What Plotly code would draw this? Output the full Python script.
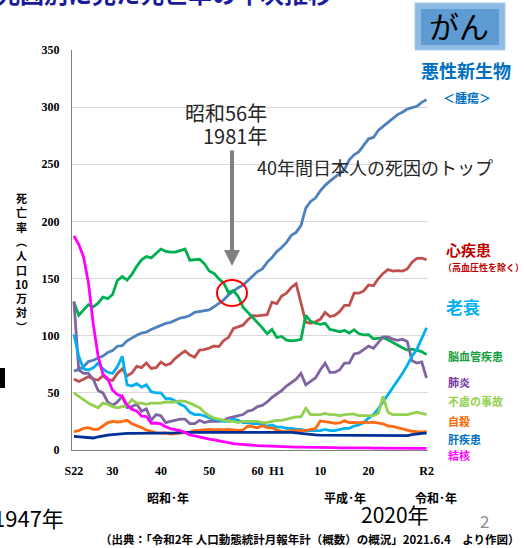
import plotly.graph_objects as go

years = list(range(1947, 2021))

# 悪性新生物
cancer = [69.0, 70.5, 73.0, 77.4, 78.5, 80.6, 82.2, 85.3, 87.1, 90.8,
          91.3, 95.5, 98.2, 100.4, 102.3, 103.2, 105.5, 107.3, 108.4, 110.8,
          111.7, 113.9, 115.5, 116.3, 117.7, 120.4, 121.2, 122.2, 122.6, 125.3,
          128.4, 131.3, 135.7, 139.1, 142.0, 144.2, 148.3, 152.5, 156.1, 158.5,
          164.2, 168.4, 173.6, 177.2, 181.7, 187.8, 190.4, 196.4, 211.6, 217.5,
          220.4, 226.7, 231.6, 235.2, 238.8, 241.7, 245.4, 253.9, 258.3, 261.0,
          266.9, 272.3, 273.5, 279.7, 283.2, 286.6, 290.3, 293.5, 295.5, 298.3,
          299.5, 300.7, 304.2, 306.6]
# 心疾患
heart = [62.2, 60.0, 62.0, 64.2, 62.1, 61.2, 65.0, 61.6, 60.9, 67.0,
         71.0, 64.8, 67.4, 73.2, 72.1, 76.2, 71.4, 72.1, 77.0, 74.2,
         75.7, 80.2, 83.7, 86.7, 83.0, 81.2, 87.4, 87.9, 89.2, 91.0,
         90.5, 95.7, 98.6, 106.2, 107.8, 109.2, 114.0, 117.5, 117.3, 117.9,
         118.4, 129.4, 128.1, 134.8, 137.2, 142.2, 145.6, 128.6, 112.0, 110.8,
         112.2, 114.3, 120.4, 116.8, 117.8, 121.0, 126.5, 126.5, 137.2, 137.2,
         139.2, 144.4, 143.7, 149.8, 154.5, 157.9, 156.5, 157.0, 156.5, 158.4,
         164.3, 167.6, 167.9, 166.6]
# 脳血管疾患
cerebro = [129.4, 117.9, 122.6, 127.1, 125.2, 128.5, 133.7, 132.4, 136.1, 148.4,
           151.7, 148.6, 153.7, 160.7, 166.4, 169.3, 168.1, 171.7, 175.8, 173.8,
           173.1, 173.1, 174.4, 175.8, 166.1, 166.7, 166.9, 163.1, 156.7, 154.5,
           149.8, 146.2, 137.7, 139.5, 134.3, 125.0, 120.6, 116.4, 112.2, 106.9,
           101.7, 105.5, 98.5, 99.4, 96.2, 95.6, 96.0, 96.9, 117.9, 112.6,
           111.0, 110.0, 110.8, 105.5, 104.7, 103.4, 104.7, 102.3, 105.3, 101.7,
           100.8, 100.9, 97.2, 97.7, 98.2, 96.5, 94.1, 91.1, 89.4, 87.4,
           88.2, 87.1, 86.1, 83.5]
# 肺炎
pneumonia = [130, 70, 67, 67, 62, 52, 50, 42, 39, 42,
             47, 37, 38, 40, 34, 36, 26, 31, 30, 24,
             25, 26, 27, 27, 23, 23, 26, 24, 25, 25,
             25, 26, 28, 29, 30, 31, 34, 35, 38, 39,
             42, 46, 49, 52, 56, 59, 62, 67, 57, 60,
             63, 70, 76, 68, 68, 70, 76, 76, 84, 85,
             88, 91, 89, 94, 99, 99, 97, 96, 97, 95,
             78, 76, 77, 63]
# 老衰
senility = [101, 82, 71, 70, 72, 76, 71, 68, 67, 73,
            82, 57, 56, 58, 55, 57, 51, 50, 50, 45,
            45, 43, 40, 38, 33, 31, 31, 30, 28, 27,
            26, 25, 25, 27, 26, 24, 24, 23, 23, 22,
            21, 22, 20, 20, 19, 19, 18, 18, 17, 17,
            17, 17, 18, 17, 17, 18, 19, 19, 21, 22,
            24, 28, 31, 36, 42, 48, 55, 60, 67, 74,
            82, 88, 98, 107]
# 不慮の事故
accident = [50, 47, 44, 41, 39, 37, 41, 40, 38, 37,
            38, 39, 44, 41, 41, 40, 41, 41, 41, 42,
            42, 42, 43, 42.5, 41, 39, 37, 33, 30, 28,
            27, 26, 25, 25, 24, 25, 25, 25, 25, 24,
            24, 25, 26, 26, 27, 28, 29, 29, 36.5, 31,
            31, 31, 32, 31, 31, 30, 31, 31, 31.6, 30,
            30, 30, 30, 32, 47, 33, 31, 31, 31, 31,
            32, 33, 32, 31]
# 自殺
suicide = [16, 17, 19, 19.6, 18, 18, 21, 24, 25, 24.5,
           25, 26, 23, 21.6, 19.6, 17.5, 16, 15, 14.7, 15,
           14, 14.5, 14.5, 15.3, 15.6, 17, 17.5, 17.5, 18, 17.5,
           17.9, 17.6, 18, 17.7, 17.1, 17.5, 21, 20.4, 19.4, 21.2,
           19.6, 19.4, 17.3, 16.4, 16.1, 16.9, 16.6, 16.9, 17.2, 17.8,
           18.8, 25.4, 25.0, 24.1, 23.3, 23.8, 25.5, 24.0, 24.2, 23.7,
           24.4, 24.0, 24.4, 23.4, 22.9, 21.0, 20.7, 19.5, 18.5, 17.3,
           16.4, 16.1, 15.7, 16.4]
# 肝疾患
liver = [12, 11.5, 11, 10.5, 10.5, 11.5, 12.5, 13, 13.5, 14,
         14, 14.5, 14.5, 14.5, 15, 15, 15, 15, 15, 15,
         15, 15, 15.5, 15.5, 15.5, 15.5, 16, 16, 16, 16,
         16, 16, 16, 16, 16, 16, 16, 16, 16, 16,
         16, 16, 16, 15.5, 15.5, 15.5, 15, 14.5, 13.8, 13.5,
         13.2, 13, 13, 12.9, 12.8, 12.8, 12.5, 12.6, 13, 13,
         13, 13, 12.8, 12.8, 12.8, 12.5, 12.7, 12.7, 12.7, 12.6,
         13.5, 14.2, 14.5, 14.8]
# 結核
tb = [187.2, 179.9, 168.8, 146.4, 110.3, 82.2, 66.5, 62.4, 52.3, 48.6,
      46.9, 39.4, 35.5, 34.2, 29.6, 29.3, 23.4, 23.6, 22.8, 20.3,
      18.6, 17.8, 17.0, 15.4, 13.1, 12.3, 11.3, 10.2, 9.5, 8.9,
      8.0, 7.4, 6.6, 5.5, 5.2, 4.7, 4.4, 4.2, 3.9, 3.7,
      3.4, 3.1, 3.0, 3.0, 2.7, 2.7, 2.6, 2.6, 2.6, 2.3,
      2.2, 2.2, 2.3, 2.1, 2.0, 1.8, 1.9, 1.8, 1.8, 1.8,
      1.7, 1.8, 1.7, 1.7, 1.7, 1.7, 1.7, 1.7, 1.5, 1.5,
      1.8, 1.8, 1.7, 1.5]

tick_years = [1947, 1955, 1965, 1975, 1985, 1989, 1998, 2008, 2020]
tick_text = ["S22", "30", "40", "50", "60", "H1", "10", "20", "R2"]

series = [
    (cancer, "#4F81BD"),
    (heart, "#C0504D"),
    (cerebro, "#00B050"),
    (pneumonia, "#8064A2"),
    (senility, "#00B0F0"),
    (accident, "#92D050"),
    (suicide, "#FF6A10"),
    (liver, "#00309A"),
    (tb, "#FF00FF"),
]

W, H = 524, 548
L, R, T, B = 72, 96, 50, 98
JP = "Noto Sans CJK JP"
SERIF = "Liberation Serif"


def fx(p):
    return (p - L) / (W - L - R)


def fy(p):
    return (H - B - p) / (H - T - B)


fig = go.Figure()
for vals, col in series:
    fig.add_trace(go.Scatter(x=years, y=vals, mode="lines",
                             line=dict(color=col, width=2.8), showlegend=False))


def note(text, x, y, size, color="#000000", anchor="left", bold=False, vanchor="middle"):
    if bold:
        text = "<b>" + text + "</b>"
    fig.add_annotation(text=text, x=fx(x), y=fy(y), xref="paper", yref="paper",
                       xanchor=anchor, yanchor=vanchor, showarrow=False,
                       font=dict(family=JP, size=size, color=color))


# title (cut at the top of the slide)
note("死因別に見た死亡率の年次推移", -6, -7, 24, "#1A1A9A", bold=True)

# がん box
fig.add_shape(type="rect", xref="paper", yref="paper", x0=fx(415), x1=fx(505),
              y0=fy(50), y1=fy(3), fillcolor="#8DBBE3", line=dict(color="#A9CDEB", width=1))
fig.add_shape(type="rect", xref="paper", yref="paper", x0=fx(421), x1=fx(499),
              y0=fy(45), y1=fy(9), fillcolor="#5E9BD2", line=dict(width=0))
note("がん", 459, 25, 30, "#000000", anchor="center")

# right side labels
note("悪性新生物", 419, 70, 18, "#0070C0", bold=True)
note("＜腫瘍＞", 441, 97, 12, "#0070C0", bold=True)
note("心疾患", 444, 249, 15, "#C00000", bold=True)
note("（高血圧性を除く）", 441, 267, 9, "#C00000", bold=True)
note("老衰", 444, 306, 17, "#00B0F0", bold=True)
note("脳血管疾患", 446, 356, 11, "#13A040", bold=True)
note("肺炎", 446, 382, 11, "#7030A0", bold=True)
note("不慮の事故", 446, 401, 11, "#92D050", bold=True)
note("自殺", 446, 421, 11, "#FF6600", bold=True)
note("肝疾患", 446, 439, 11, "#0070C0", bold=True)
note("結核", 446, 455, 11, "#FF00FF", bold=True)

# y axis title (vertical)
note("死<br>亡<br>率<br>︵<br>人<br>口<br>10<br>万<br>対<br>︶", 21, 262, 11, anchor="center", bold=True)

# era labels
note("昭和･年", 168, 497, 12, anchor="center", bold=True)
note("平成･年", 345, 497, 12, anchor="center", bold=True)
note("令和･年", 436, 497, 12, anchor="center", bold=True)

note("1947年", 66, 517, 22, "#000000", anchor="right")
note("2020年", 395, 514, 21, "#000000", anchor="center")
note("2", 484, 520, 17, "#8C8C8C", anchor="center")
note("（出典：「令和2年 人口動態統計月報年計（概数）の概況」2021.6.4　より作図）",
     98, 539, 11.5, anchor="left", bold=True)

# 1981 annotation
note("昭和56年", 269, 112, 20, "#262626", anchor="right")
note("1981年", 269, 135, 20, "#262626", anchor="right")
note("40年間日本人の死因のトップ", 255, 167, 18, "#262626")
fig.add_annotation(x=fx(232), y=fy(266), xref="paper", yref="paper", text="",
                   showarrow=True, ax=0, ay=-117, arrowhead=2, arrowsize=0.8,
                   arrowwidth=4, arrowcolor="#808080")
fig.add_shape(type="circle", xref="paper", yref="paper", x0=fx(217), x1=fx(247),
              y0=fy(306), y1=fy(280), line=dict(color="#FF0000", width=2))

# black mark at the left edge
fig.add_shape(type="rect", xref="paper", yref="paper", x0=fx(0), x1=fx(5),
              y0=fy(388), y1=fy(368), fillcolor="#000000", line=dict(width=0))

fig.update_xaxes(range=[1946.6, 2020.3], tickvals=tick_years, ticktext=tick_text,
                 showgrid=False, zeroline=False, showline=True, linecolor="#7F7F7F",
                 linewidth=1, ticks="", ticklabelstandoff=10,
                 tickfont=dict(family=SERIF, size=12, color="#000000", weight="bold"))
fig.update_yaxes(range=[0, 350], tickvals=[0, 50, 100, 150, 200, 250, 300, 350],
                 showgrid=True, gridcolor="#D9D9D9", gridwidth=1, zeroline=False,
                 showline=True, linecolor="#7F7F7F", linewidth=1, ticks="",
                 ticklabelstandoff=9,
                 tickfont=dict(family=SERIF, size=12, color="#000000", weight="bold"))

fig.update_layout(width=W, height=H, margin=dict(l=L, r=R, t=T, b=B),
                  paper_bgcolor="#FFFFFF", plot_bgcolor="#FFFFFF", showlegend=False)

fig.write_html("out.html", config={"displayModeBar": False},
               post_script="document.body.style.margin='0';")
